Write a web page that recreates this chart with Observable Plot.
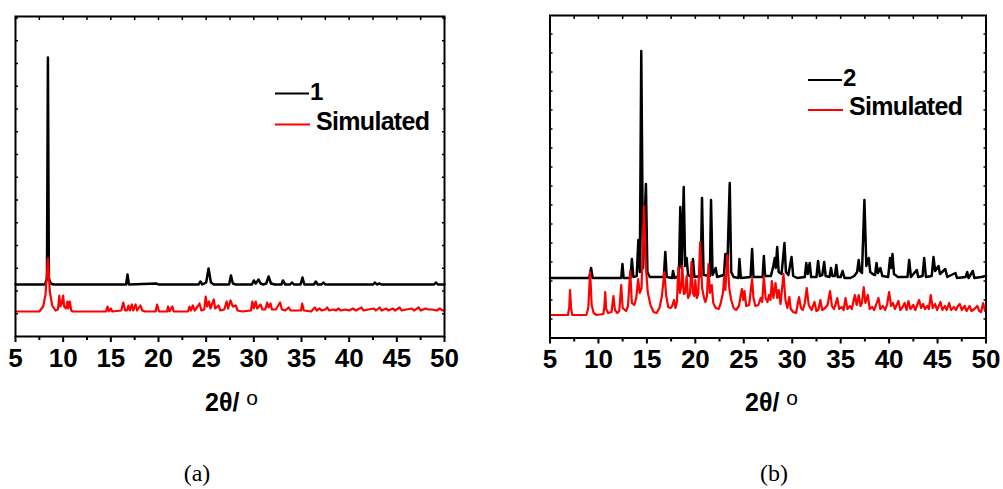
<!DOCTYPE html>
<html><head><meta charset="utf-8">
<script src="https://cdn.jsdelivr.net/npm/d3@7"></script>
<script src="https://cdn.jsdelivr.net/npm/@observablehq/plot@0.6"></script>
<style>
body{margin:0;background:#fff;}
#wrap{position:relative;width:1003px;height:489px;overflow:hidden;background:#fff;}
#pa,#pb{position:absolute;top:0;}
#pa{left:0px;} #pb{left:520px;}
#ov{position:absolute;left:0;top:0;}
</style></head><body>
<div id="wrap"><div id="pa"></div><div id="pb"></div><svg id="ov" width="1003" height="489"></svg></div>
<script>
// ---- data: [2theta (deg), intensity (a.u.)] ----
const expA = [[5,52],[8.1,52],[8.3,58],[8.4,279],[8.5,58],[8.7,53],[9,52],[12,52],
[16.6,52],[16.75,62],[16.9,52],[19.8,53],[20,52],
[24.2,52],[24.4,55],[24.6,52],[25.0,54],[25.25,68],[25.5,54],[25.8,52],
[27.4,52],[27.6,61],[27.8,53],[28.1,52],
[29.8,52],[30.0,56],[30.2,53],[30.5,57],[30.7,53],[31.0,52],
[31.3,53],[31.55,60],[31.8,53],[32.2,52],
[32.9,52],[33.05,56],[33.3,52],[33.8,52],[34,54],[34.2,52],
[34.9,52],[35.1,59],[35.3,52],
[36.3,52],[36.5,55],[36.7,52],[37.1,52],[37.3,54],[37.5,52],
[42.5,52],[42.7,54],[42.9,52],[43.2,53],[43.4,52],
[48.9,52],[49.1,54],[49.3,52],[50,52]];

const simA = [[5,25],[7.5,25],[7.9,30],[8.15,42],[8.4,78],[8.6,45],[8.85,31],[9.2,26],[9.45,27],[9.6,41],[9.7,30],[9.85,33],[10.0,41],[10.1,30],[10.3,28],[10.45,35],[10.55,28],[10.7,35],[10.85,26],[11.0,25],
[12.0,25],[14.5,25],[14.65,30],[14.8,25],[15.0,28],[15.15,25],
[16.1,26],[16.3,34],[16.5,26],[16.7,26],[16.85,31],[17.0,26],[17.2,32],[17.35,26],[17.6,32],[17.75,26],[18.1,31],[18.3,26],[18.6,25],
[19.7,25],[19.85,32],[20.05,25],
[20.9,25],[21.0,30],[21.15,25],[21.45,30],[21.6,25],
[23.1,25],[23.25,30],[23.4,26],[23.6,31],[23.8,26],[24.1,30],[24.3,33],[24.5,26],[24.8,27],[24.95,40],[25.1,30],[25.3,35],[25.45,28],[25.8,37],[25.95,28],[26.3,31],[26.5,26],[26.9,27],
[27.15,35],[27.3,28],[27.55,36],[27.8,30],[28.1,31],[28.3,26],[28.8,25],
[29.7,26],[29.85,35],[30.0,28],[30.2,35],[30.35,28],[30.7,32],[30.9,27],[31.2,27],[31.4,34],[31.55,29],[31.75,33],[31.9,27],[32.3,27],[32.75,34],[32.95,27],[33.3,26],[33.65,29],[33.85,26],[34.3,26],
[34.95,26],[35.07,33],[35.25,26],[36.0,25],
[36.2,27],[36.4,29],[36.6,26],[36.9,28],[37.1,26],[37.5,27],[37.7,29],[37.9,26],[38.4,27],[38.6,26],[38.9,28],[39.1,26],[39.6,27],[40.0,26],[40.4,28],[40.7,26],[41.3,29],[41.5,26],[42.0,27],[42.6,28],[42.8,26],[43.2,29],[43.4,26],[43.9,28],[44.1,26],[44.6,28],[44.8,26],[45.3,29],[45.5,26],[46.0,27],[46.6,28],[46.8,26],[47.3,29],[47.5,26],[48.0,28],[48.3,27],[48.7,27],[49.2,26],[49.5,28],[49.8,26],[50,26]];

const expB = [[5,60],[9.05,60],[9.24,70],[9.4,60],
[12.35,60],[12.48,74],[12.6,60],
[13.3,60],[13.45,79],[13.6,61],
[13.95,62],[14.12,98],[14.27,66],[14.42,287],[14.6,70],[14.9,154],[15.05,66],[15.3,61],
[16.75,61],[16.9,86],[17.05,61],
[17.6,60],[17.7,67],[17.85,60],
[18.3,62],[18.45,131],[18.6,70],[18.8,151],[18.95,72],[19.1,80],[19.25,63],
[19.6,61],[19.76,79],[19.9,61],
[20.55,62],[20.69,140],[20.85,63],
[21.5,62],[21.62,138],[21.78,63],[22.1,70],[22.25,61],
[22.95,63],[23.1,84],[23.3,70],[23.55,155],[23.7,66],[23.95,61],
[24.45,60],[24.55,79],[24.7,60],
[25.7,61],[25.86,89],[26.0,61],
[26.95,61],[27.07,82],[27.2,62],
[27.8,62],[28.05,72],[28.2,80],[28.3,70],[28.45,91],[28.6,66],[28.9,64],[29.2,95],[29.35,66],[29.6,63],[29.93,81],[30.1,62],
[30.5,60],
[31.3,61],[31.45,75],[31.6,64],[31.8,75],[31.95,61],
[32.5,61],[32.67,77],[32.85,62],[33.1,63],[33.3,76],[33.45,62],
[33.85,61],[34.0,70],[34.15,62],[34.4,62],[34.55,73],[34.7,61],[35.0,61],[35.2,67],[35.4,60],
[36.0,60],[36.4,62],[36.7,66],[36.86,78],[37.0,67],[37.2,65],[37.45,138],[37.65,72],[37.9,80],[38.05,66],[38.3,64],
[38.55,63],[38.7,75],[38.85,65],[39.1,70],[39.3,62],
[39.9,61],[40.1,80],[40.22,70],[40.35,84],[40.5,64],[40.9,61],
[41.9,61],[42.07,78],[42.25,61],[42.86,68],[43.0,61],
[43.45,62],[43.62,80],[43.8,61],
[44.4,62],[44.58,81],[44.75,67],[45.1,72],[45.25,64],[45.8,69],[46.0,61],
[46.85,65],[47.0,60],
[47.9,61],[48.06,66],[48.2,60],[48.64,67],[48.8,60],
[49.5,61],[50,62]];

const simB = [[5,23],[6.85,23],[6.98,30],[7.07,48],[7.17,30],[7.3,23],
[8.75,23],[8.95,30],[9.14,66],[9.3,33],[9.5,25],[9.8,23],
[10.5,24],[10.6,30],[10.7,46],[10.8,29],[11.0,25],
[11.35,26],[11.55,42],[11.7,28],[11.95,25],
[12.15,27],[12.35,53],[12.5,30],[12.85,27],
[13.05,32],[13.28,67],[13.45,35],[13.7,33],[13.9,40],[14.1,59],[14.25,45],[14.45,50],[14.7,132],[14.9,70],[15.1,45],[15.4,32],[15.7,26],[16.0,25],[16.3,30],[16.55,42],[16.8,66],[17.0,42],[17.2,31],[17.45,30],[17.6,32],[17.8,38],[17.95,30],[18.1,36],
[18.25,71],[18.4,45],[18.55,52],[18.66,72],[18.8,44],[18.95,45],[19.1,62],[19.25,40],[19.45,44],[19.6,76],[19.75,45],[19.9,42],[20.0,58],[20.15,40],[20.3,44],[20.5,96],[20.7,50],[20.9,40],[21.05,36],[21.2,42],[21.36,74],[21.5,45],[21.7,53],[21.85,35],[22.1,30],[22.4,29],[22.6,34],[22.85,45],[22.98,61],[23.1,48],[23.3,83],[23.5,50],[23.7,38],[23.95,30],[24.2,28],[24.5,32],[24.8,49],[24.95,38],[25.07,47],[25.25,32],[25.55,33],[25.86,59],[26.0,40],[26.2,32],[26.5,33],[26.75,40],[26.9,36],[27.07,62],[27.25,40],[27.45,36],[27.6,43],[27.75,38],[27.9,57],[28.05,40],[28.28,55],[28.45,40],[28.6,48],[28.8,34],[29.1,64],[29.3,38],[29.5,30],[29.7,41],[29.85,29],[30.1,26],[30.4,25],[30.7,41],[30.9,30],[31.1,28],[31.3,35],[31.5,50],[31.7,33],[32.0,28],[32.3,36],[32.5,27],[32.7,28],[32.9,38],[33.1,28],[33.4,30],[33.65,33],[33.9,47],[34.1,32],[34.3,29],[34.45,33],[34.65,40],[34.85,29],[35.1,31],[35.3,28],[35.5,40],[35.7,29],[35.95,32],[36.15,29],[36.46,43],[36.65,33],[36.86,43],[37.05,32],[37.2,35],[37.38,51],[37.55,35],[37.8,43],[38.0,29],[38.25,31],[38.45,28],[38.65,33],[38.9,40],[39.1,29],[39.35,32],[39.6,28],[39.8,34],[40.0,46],[40.2,32],[40.4,35],[40.6,29],[40.96,37],[41.15,28],[41.4,31],[41.6,35],[41.8,28],[41.99,37],[42.2,29],[42.5,33],[42.7,28],[43.1,38],[43.3,30],[43.5,34],[43.7,29],[43.95,32],[44.1,29],[44.3,43],[44.5,30],[44.75,34],[44.95,28],[45.3,36],[45.5,28],[45.75,32],[45.95,28],[46.2,35],[46.4,28],[46.7,31],[46.9,28],[47.1,32],[47.3,34],[47.5,28],[47.8,32],[48.0,27],[48.3,32],[48.5,27],[48.8,29],[49.1,32],[49.3,27],[49.5,26],[49.7,35],[49.9,27],[50,27]];

const majorX = [5,10,15,20,25,30,35,40,45,50];
const minorX = [7.5,12.5,17.5,22.5,27.5,32.5,37.5,42.5,47.5];
const yTicksA = [22.75,45.5,68.25,91,113.75,136.5,159.25,182,204.75,227.5,250.25,273,295.75,318.5];
const yTicksB = [19,38,57,76,95,114,133,152,171,190,209,228,247,266,285,304];
const legendA = ["1","Simulated"];
const legendB = ["2","Simulated"];
const panelLabels = ["(a)","(b)"];
const xTitle = ["2θ/ ","o"];

const narrow = "'Liberation Sans Narrow','Liberation Sans',Arial,sans-serif";

function panel(exp, sim, opts) {
  const allX = majorX.concat(minorX);
  const blank = () => "";
  return Plot.plot({
    width: opts.width, height: 380,
    marginLeft: opts.ml, marginRight: opts.mr, marginTop: opts.mt, marginBottom: opts.mb,
    x: {domain: [5, 50]}, y: {domain: [0, opts.ymax]},
    style: {fontFamily: narrow, fontWeight: "bold", fontSize: "26px", color: "#000", background: "transparent", overflow: "visible"},
    marks: [
      Plot.line(exp, {x: d => d[0], y: d => d[1], stroke: "#000", strokeWidth: 2.5}),
      Plot.line(sim, {x: d => d[0], y: d => d[1], stroke: "#f00", strokeWidth: 2.2}),
      Plot.axisX({ticks: majorX, tickSize: 6, tickPadding: 6, tickFormat: d => String(d), label: null, strokeWidth: 2}),
      Plot.axisX({ticks: minorX, tickSize: 4, tickFormat: blank, label: null, strokeWidth: 2}),
      Plot.axisX({anchor: "top", ticks: allX, tickSize: -3, tickFormat: blank, label: null, strokeWidth: 1.5}),
      Plot.axisY({anchor: "left", ticks: opts.yTicks, tickSize: -3, tickFormat: blank, label: null, strokeWidth: 1.5}),
      Plot.axisY({anchor: "right", ticks: opts.yTicks, tickSize: -3, tickFormat: blank, label: null, strokeWidth: 1.5}),
      Plot.frame({stroke: "#000", strokeWidth: 2})
    ]
  });
}

document.getElementById("pa").append(panel(expA, simA, {width: 470, ml: 15, mr: 26, mt: 16, mb: 44, ymax: 320, yTicks: yTicksA}));
document.getElementById("pb").append(panel(expB, simB, {width: 483, ml: 29.5, mr: 17.5, mt: 15, mb: 42.5, ymax: 322.5, yTicks: yTicksB}));

// ---- overlay: legends, axis titles, panel labels ----
const ov = d3.select("#ov");
const sans = "'Liberation Sans',Arial,sans-serif";
function legend(x0, y1, y2, labels) {
  ov.append("line").attr("x1", x0).attr("x2", x0 + 34).attr("y1", y1).attr("y2", y1).attr("stroke", "#000").attr("stroke-width", 2);
  ov.append("line").attr("x1", x0).attr("x2", x0 + 35).attr("y1", y2).attr("y2", y2).attr("stroke", "#f00").attr("stroke-width", 2);
  ov.append("text").attr("x", x0 + 35).attr("y", y1 + 6).attr("font-family", sans).attr("font-weight", "bold").attr("font-size", 24).text(labels[0]);
  ov.append("text").attr("x", x0 + 41).attr("y", y2 + 5).attr("font-family", sans).attr("font-weight", "bold").attr("font-size", 25).attr("textLength", 114).text(labels[1]);
}
legend(275, 93.5, 124.5, legendA);
legend(808, 80, 110, legendB);

function title(x0) {
  const t = ov.append("text").attr("x", x0).attr("y", 411).attr("font-family", narrow).attr("font-weight", "bold").attr("font-size", 25);
  t.append("tspan").text(xTitle[0]);
  t.append("tspan").attr("dy", -6).attr("font-family", sans).attr("font-weight", "normal").attr("font-size", 21).text(xTitle[1]);
}
title(205);
title(745);

ov.append("text").attr("x", 197).attr("y", 481).attr("text-anchor", "middle").attr("font-family", "'Liberation Serif','Times New Roman',serif").attr("font-size", 24).text(panelLabels[0]);
ov.append("text").attr("x", 774).attr("y", 481).attr("text-anchor", "middle").attr("font-family", "'Liberation Serif','Times New Roman',serif").attr("font-size", 24).text(panelLabels[1]);
</script>
</body></html>
